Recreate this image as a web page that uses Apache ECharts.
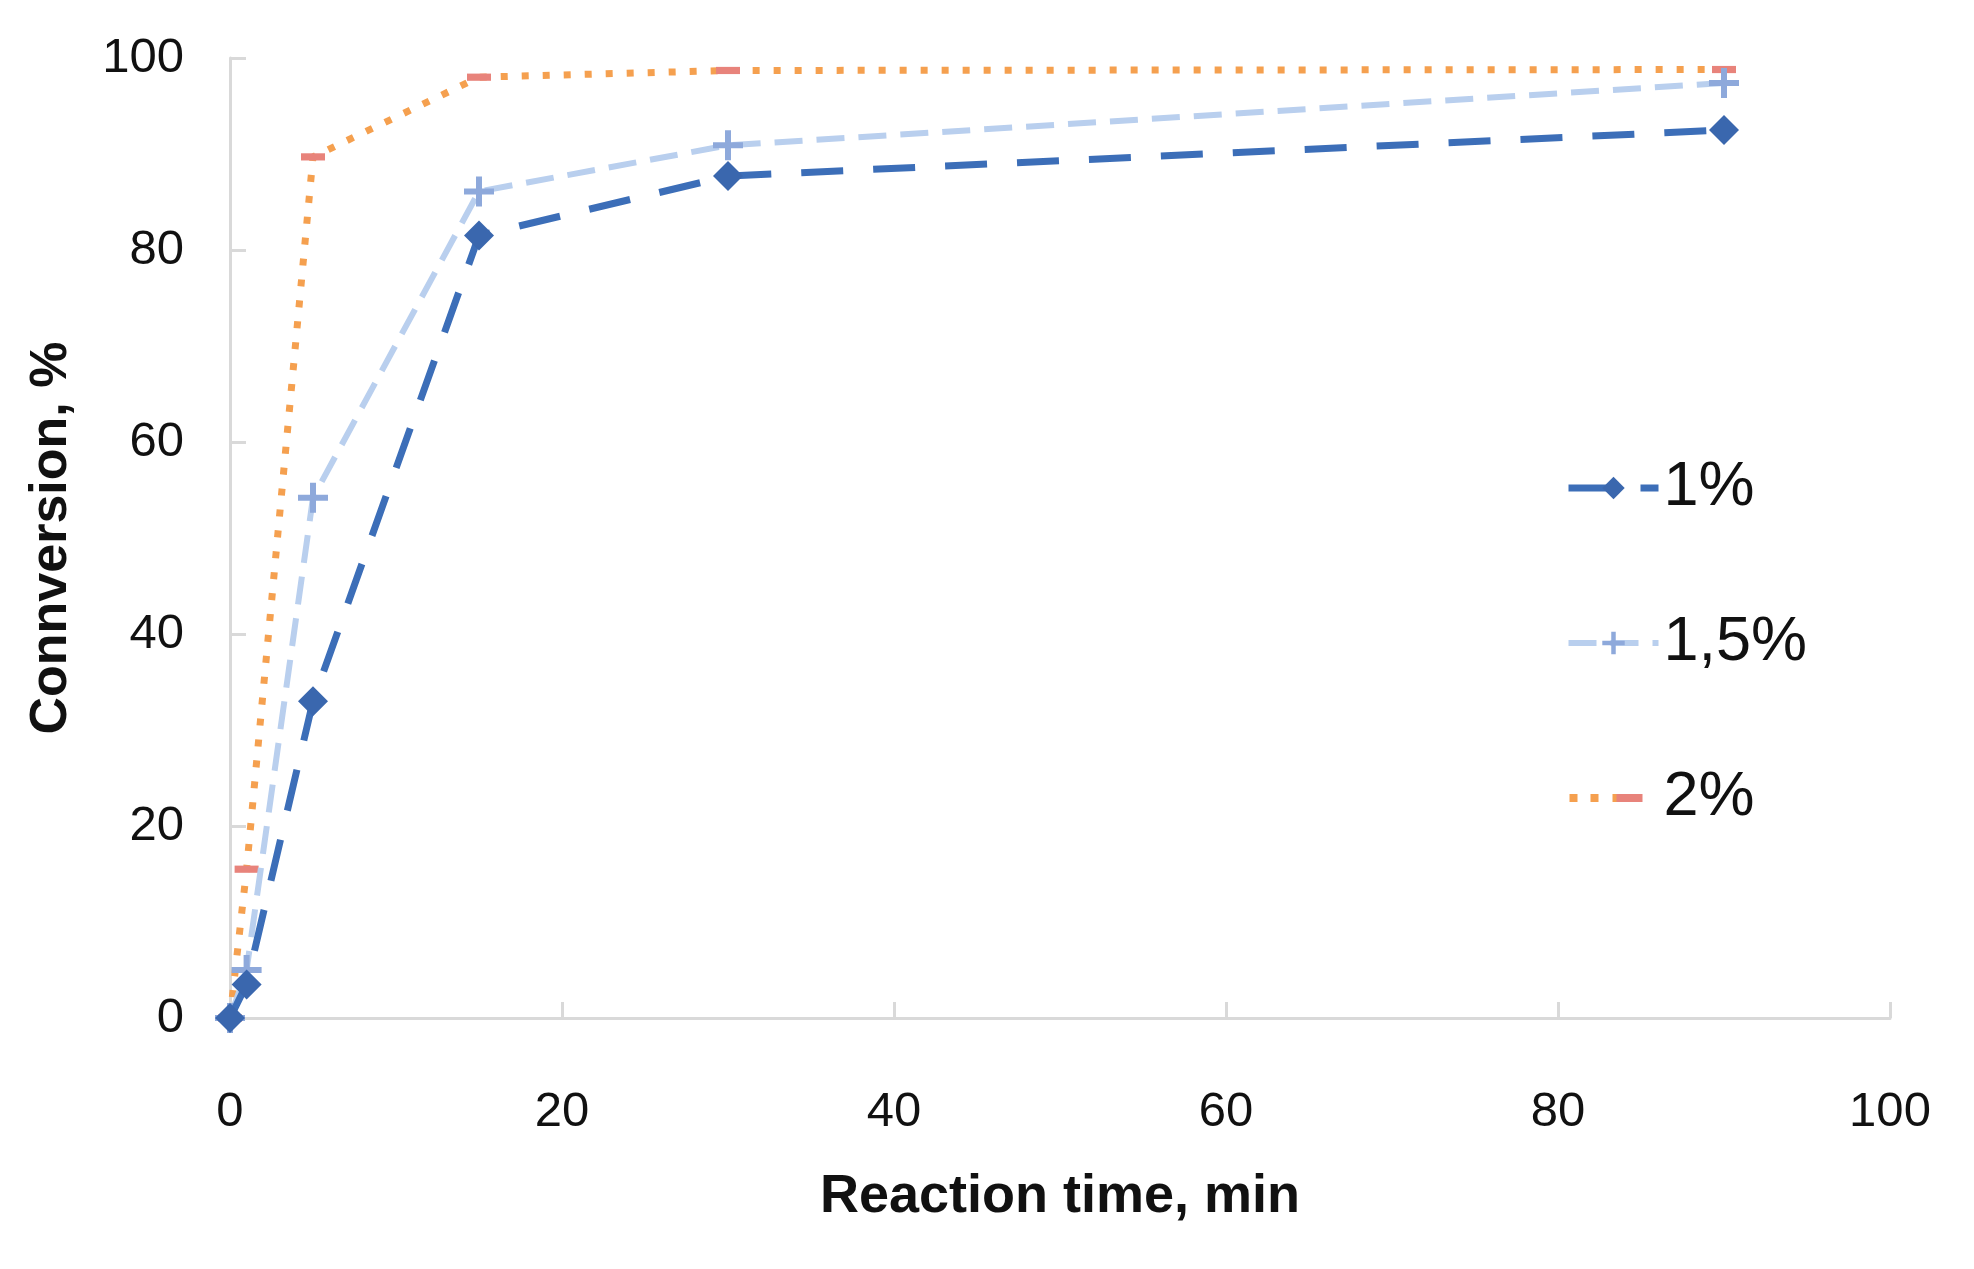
<!DOCTYPE html>
<html>
<head>
<meta charset="utf-8">
<script src="https://cdn.jsdelivr.net/npm/echarts@6/dist/echarts.min.js"></script>
<style>
html,body{margin:0;padding:0;background:#fff;}
#c{width:1974px;height:1269px;}
</style>
</head>
<body>
<div id="c"></div>
<script>
var times = [0, 1, 5, 15, 30, 90];
var series1 = [0, 3.5, 33, 81.5, 87.7, 92.5];
var series15 = [0, 5, 54.2, 86.1, 90.9, 97.4];
var series2 = [0, 15.5, 89.7, 98, 98.7, 98.8];
var seriesNames = ['1%', '1,5%', '2%'];
var xTicks = [0, 20, 40, 60, 80, 100];
var yTicks = [0, 20, 40, 60, 80, 100];
var xTitle = 'Reaction time, min';
var yTitle = 'Connversion, %';

function pairs(xs, ys){ return xs.map(function(x,i){ return [x, ys[i]]; }); }

var FONT = '"Liberation Sans", Arial, sans-serif';
var plus = 'path://M4,0h2v4h4v2h-4v4h-2v-4h-4v-2h4z';
var dashSym = 'path://M0,0h30v9h-30z';

var c1 = '#3C6EB8', c15 = '#B9CFEE', c2 = '#F5A04F', m2 = '#E8837B';

var svg2 = '<svg xmlns="http://www.w3.org/2000/svg" width="90" height="28" viewBox="0 0 90 28">' +
  '<rect x="1" y="10" width="8" height="8" fill="' + c2 + '"/>' +
  '<rect x="22" y="10" width="8" height="8" fill="' + c2 + '"/>' +
  '<rect x="44" y="10" width="9" height="8" fill="' + c2 + '"/>' +
  '<rect x="48" y="10" width="26" height="8" fill="' + m2 + '"/>' +
  '</svg>';
var icon2 = 'image://data:image/svg+xml;charset=utf-8,' + encodeURIComponent(svg2);

var chart = echarts.init(document.getElementById('c'), null, {renderer:'canvas'});
var axisCol = '#D9D9D9';
chart.setOption({
  animation: false,
  backgroundColor: '#ffffff',
  grid: {left: 230, right: 84, top: 58, bottom: 251, containLabel: false},
  legend: {
    orient: 'vertical',
    left: 1560,
    top: 447,
    itemWidth: 90,
    itemHeight: 28,
    itemGap: 83,
    textStyle: {fontFamily: FONT, fontSize: 63, lineHeight: 72, color: '#111'},
    data: [
      {name: seriesNames[0], lineStyle: {width: 7}},
      {name: seriesNames[1], lineStyle: {width: 6}},
      {name: seriesNames[2], icon: icon2}
    ]
  },
  xAxis: {
    type: 'value',
    min: 0, max: 100, interval: 20,
    name: xTitle,
    nameLocation: 'middle',
    nameGap: 152,
    nameTextStyle: {fontFamily: FONT, fontSize: 54, fontWeight: 'bold', color: '#111'},
    axisLine: {show: true, onZero: false, lineStyle: {color: axisCol, width: 3}},
    axisTick: {show: true, inside: true, length: 16, lineStyle: {color: axisCol, width: 3}},
    axisLabel: {fontFamily: FONT, fontSize: 49, color: '#111', margin: 70,
      formatter: function(v){ return xTicks.indexOf(v) >= 0 ? String(v) : ''; }},
    splitLine: {show: false}
  },
  yAxis: {
    type: 'value',
    min: 0, max: 100, interval: 20,
    name: yTitle,
    nameLocation: 'middle',
    nameGap: 152,
    nameRotate: 90,
    nameTextStyle: {fontFamily: FONT, fontSize: 52, fontWeight: 'bold', color: '#111'},
    axisLine: {show: true, lineStyle: {color: axisCol, width: 3}},
    axisTick: {show: true, inside: true, length: 16, lineStyle: {color: axisCol, width: 3}},
    axisLabel: {fontFamily: FONT, fontSize: 49, color: '#111', margin: 46,
      formatter: function(v){ return yTicks.indexOf(v) >= 0 ? String(v) : ''; }},
    splitLine: {show: false}
  },
  series: [
    {
      name: seriesNames[2], type: 'line', data: pairs(times, series2), z: 2,
      symbol: dashSym, symbolSize: 24, symbolKeepAspect: true, showAllSymbol: true,
      itemStyle: {color: m2},
      lineStyle: {color: c2, width: 7, type: [7, 14]}
    },
    {
      name: seriesNames[1], type: 'line', data: pairs(times, series15), z: 3,
      symbol: plus, symbolSize: 30, showAllSymbol: true,
      itemStyle: {color: '#8EA9DB'},
      lineStyle: {color: c15, width: 6, type: [28, 14]}
    },
    {
      name: seriesNames[0], type: 'line', data: pairs(times, series1), z: 4,
      symbol: 'diamond', symbolSize: 30, showAllSymbol: true,
      itemStyle: {color: '#3A67AE'},
      lineStyle: {color: c1, width: 7, type: [42, 30]}
    }
  ]
});
</script>
</body>
</html>
